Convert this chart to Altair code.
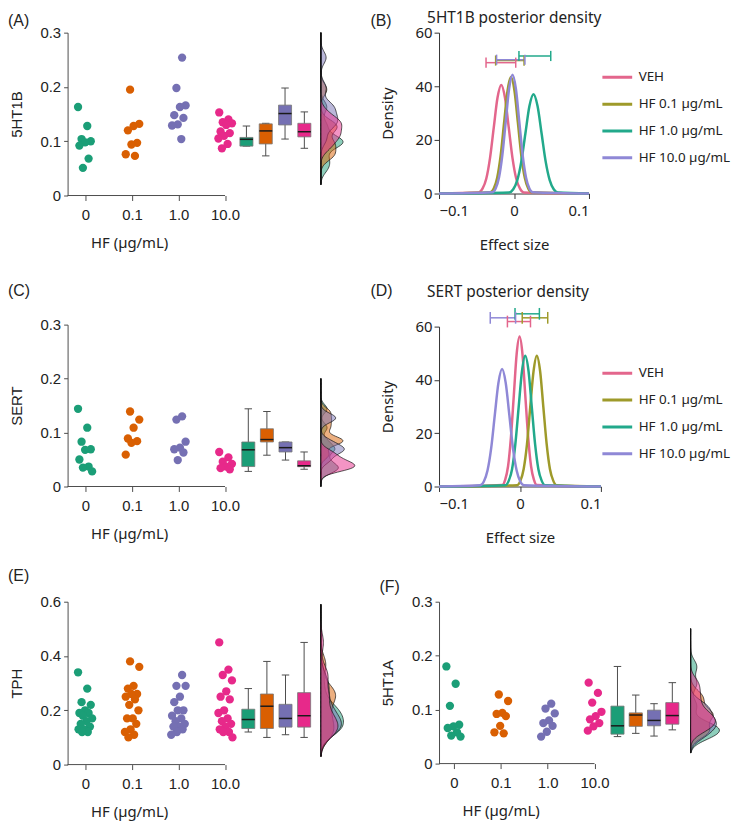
import altair as alt
import pandas as pd

GROUPS = ["0", "0.1", "1.0", "10.0"]
GROUP_COLORS = ["#1b9e77", "#d95f02", "#7570b3", "#e7298a"]
SERIES = ["VEH", "HF 0.1 µg/mL", "HF 1.0 µg/mL", "HF 10.0 µg/mL"]
SERIES_COLORS = ["#e3668c", "#9e9a2a", "#22a98b", "#8f88d6"]

# ---------------- (A) 5HT1B ----------------
A_HF0 = [0.163, 0.128, 0.104, 0.100, 0.098, 0.092, 0.068, 0.051]
A_HF01 = [0.195, 0.132, 0.128, 0.120, 0.097, 0.094, 0.076, 0.073]
A_HF1 = [0.254, 0.198, 0.166, 0.163, 0.148, 0.143, 0.131, 0.129, 0.104]
A_HF10 = [0.153, 0.140, 0.135, 0.133, 0.130, 0.118, 0.115, 0.110, 0.105, 0.095, 0.087]
A_BOX_LO = [0.091, 0.073, 0.104, 0.087]
A_BOX_Q1 = [0.091, 0.095, 0.130, 0.108]
A_BOX_MED = [0.1035, 0.119, 0.151, 0.1175]
A_BOX_Q3 = [0.107, 0.132, 0.1665, 0.133]
A_BOX_HI = [0.128, 0.133, 0.198, 0.154]

# ---------------- (C) SERT ----------------
C_HF0 = [0.144, 0.109, 0.083, 0.069, 0.068, 0.050, 0.037, 0.035, 0.028]
C_HF01 = [0.139, 0.124, 0.109, 0.089, 0.084, 0.081, 0.059]
C_HF1 = [0.130, 0.124, 0.083, 0.072, 0.069, 0.063, 0.049]
C_HF10 = [0.064, 0.054, 0.046, 0.042, 0.037, 0.034, 0.032]
C_BOX_LO = [0.028, 0.058, 0.049, 0.032]
C_BOX_Q1 = [0.037, 0.0825, 0.064, 0.0367]
C_BOX_MED = [0.068, 0.087, 0.072, 0.0385]
C_BOX_Q3 = [0.0825, 0.107, 0.0825, 0.0476]
C_BOX_HI = [0.144, 0.139, 0.0825, 0.064]

# ---------------- (E) TPH ----------------
E_HF0 = [0.34, 0.28, 0.23, 0.22, 0.20, 0.19, 0.19, 0.18, 0.17, 0.16, 0.15, 0.14, 0.13, 0.13, 0.12, 0.12]
E_HF01 = [0.38, 0.36, 0.29, 0.28, 0.26, 0.26, 0.25, 0.24, 0.22, 0.20, 0.17, 0.17, 0.15, 0.13, 0.12, 0.11, 0.10]
E_HF1 = [0.33, 0.29, 0.29, 0.25, 0.23, 0.20, 0.20, 0.18, 0.17, 0.16, 0.15, 0.14, 0.14, 0.13, 0.12, 0.11]
E_HF10 = [0.45, 0.35, 0.33, 0.31, 0.27, 0.25, 0.24, 0.20, 0.19, 0.17, 0.16, 0.15, 0.14, 0.13, 0.12, 0.12, 0.10]
E_BOX_LO = [0.12, 0.10, 0.11, 0.10]
E_BOX_Q1 = [0.133, 0.133, 0.138, 0.138]
E_BOX_MED = [0.166, 0.215, 0.17, 0.18]
E_BOX_Q3 = [0.204, 0.26, 0.222, 0.265]
E_BOX_HI = [0.28, 0.38, 0.33, 0.45]

# ---------------- (F) 5HT1A ----------------
F_HF0 = [0.18, 0.148, 0.107, 0.072, 0.069, 0.066, 0.058, 0.052, 0.05]
F_HF01 = [0.128, 0.116, 0.094, 0.092, 0.088, 0.07, 0.058, 0.056]
F_HF1 = [0.111, 0.102, 0.093, 0.08, 0.075, 0.07, 0.059, 0.05]
F_HF10 = [0.15, 0.131, 0.113, 0.096, 0.088, 0.082, 0.075, 0.069, 0.061]
F_BOX_LO = [0.05, 0.056, 0.051, 0.0625]
F_BOX_Q1 = [0.0545, 0.069, 0.07, 0.073]
F_BOX_MED = [0.07, 0.09, 0.08, 0.089]
F_BOX_Q3 = [0.1065, 0.094, 0.099, 0.113]
F_BOX_HI = [0.18, 0.127, 0.111, 0.15]

# ---------------- (B) 5HT1B posterior density ----------------
B_VEH_X = [-0.1, -0.047, -0.042, -0.037, -0.032, -0.027, -0.022, -0.017, -0.012, -0.007, -0.002, 0.003, 0.008, 0.013, 0.1]
B_VEH_Y = [0, 0.4, 1.8, 5.5, 13.2, 24.6, 35.7, 40.5, 35.7, 24.6, 13.2, 5.5, 1.8, 0.4, 0]
B_HF01_X = [-0.1, -0.0316, -0.027, -0.0224, -0.0178, -0.0132, -0.0086, -0.004, 0.0006, 0.0052, 0.0098, 0.0144, 0.019, 0.0236, 0.1]
B_HF01_Y = [0, 0.5, 1.9, 5.9, 14.1, 26.4, 38.4, 43.5, 38.4, 26.4, 14.1, 5.9, 1.9, 0.5, 0]
B_HF1_X = [-0.1, -0.0064, -0.001, 0.0044, 0.0098, 0.0152, 0.0206, 0.026, 0.0314, 0.0368, 0.0422, 0.0476, 0.053, 0.0584, 0.1]
B_HF1_Y = [0, 0.4, 1.6, 5.0, 12.0, 22.4, 32.6, 37.0, 32.6, 22.4, 12.0, 5.0, 1.6, 0.4, 0]
B_HF10_X = [-0.1, -0.029, -0.0245, -0.02, -0.0155, -0.011, -0.0065, -0.002, 0.0025, 0.007, 0.0115, 0.016, 0.0205, 0.025, 0.1]
B_HF10_Y = [0, 0.5, 1.9, 6.0, 14.4, 26.9, 39.1, 44.3, 39.1, 26.9, 14.4, 6.0, 1.9, 0.5, 0]
B_CI_LO = [-0.0373, -0.0245, 0.0066, -0.0232]
B_CI_HI = [0.0023, 0.0134, 0.049, 0.0146]
B_CI_LEVEL = [48.8, 49.6, 51.3, 49.9]

# ---------------- (D) SERT posterior density ----------------
D_VEH_X = [-0.1, -0.0218, -0.0183, -0.0147, -0.0112, -0.0076, -0.0041, -0.0005, 0.0031, 0.0066, 0.0102, 0.0137, 0.0173, 0.0208, 0.1]
D_VEH_Y = [0, 0.6, 2.5, 7.6, 18.3, 34.1, 49.7, 56.3, 49.7, 34.1, 18.3, 7.6, 2.5, 0.6, 0]
D_HF01_X = [-0.1, -0.0035, 0.0006, 0.0046, 0.0087, 0.0127, 0.0168, 0.0208, 0.0249, 0.0289, 0.033, 0.037, 0.0411, 0.0451, 0.1]
D_HF01_Y = [0, 0.5, 2.2, 6.6, 15.9, 29.8, 43.3, 49.1, 43.3, 29.8, 15.9, 6.6, 2.2, 0.5, 0]
D_HF1_X = [-0.1, -0.0178, -0.0138, -0.0097, -0.0057, -0.0016, 0.0025, 0.0065, 0.0106, 0.0146, 0.0187, 0.0227, 0.0268, 0.0308, 0.1]
D_HF1_Y = [0, 0.5, 2.2, 6.6, 15.9, 29.8, 43.3, 49.1, 43.3, 29.8, 15.9, 6.6, 2.2, 0.5, 0]
D_HF10_X = [-0.1, -0.0491, -0.0446, -0.0401, -0.0356, -0.0311, -0.0266, -0.0221, -0.0176, -0.0131, -0.0086, -0.0041, 0.0004, 0.0049, 0.1]
D_HF10_Y = [0, 0.5, 1.9, 6.0, 14.3, 26.8, 38.9, 44.1, 38.9, 26.8, 14.3, 6.0, 1.9, 0.5, 0]
D_CI_LO = [-0.0155, 0.0028, -0.0061, -0.0367]
D_CI_HI = [0.013, 0.0343, 0.024, -0.0054]
D_CI_LEVEL = [61.9, 63.3, 64.8, 63.3]

# ---------------- build tables ----------------
pt_rows, box_rows = [], []
for panel, lists, stats in [
    ("A", [A_HF0, A_HF01, A_HF1, A_HF10], [A_BOX_LO, A_BOX_Q1, A_BOX_MED, A_BOX_Q3, A_BOX_HI]),
    ("C", [C_HF0, C_HF01, C_HF1, C_HF10], [C_BOX_LO, C_BOX_Q1, C_BOX_MED, C_BOX_Q3, C_BOX_HI]),
    ("E", [E_HF0, E_HF01, E_HF1, E_HF10], [E_BOX_LO, E_BOX_Q1, E_BOX_MED, E_BOX_Q3, E_BOX_HI]),
    ("F", [F_HF0, F_HF01, F_HF1, F_HF10], [F_BOX_LO, F_BOX_Q1, F_BOX_MED, F_BOX_Q3, F_BOX_HI]),
]:
    for gi, vals in enumerate(lists):
        for i, v in enumerate(vals):
            pt_rows.append({"panel": panel, "g": GROUPS[gi], "gi": gi, "i": i, "value": v})
        lo, q1, med, q3, hi = (s[gi] for s in stats)
        box_rows.append({"panel": panel, "g": GROUPS[gi], "gi": gi,
                         "lo": lo, "q1": q1, "med": med, "q3": q3, "hi": hi})
points = pd.DataFrame(pt_rows)
boxes = pd.DataFrame(box_rows)

curve_rows, ci_rows = [], []
for panel, curves, ci in [
    ("B", [(B_VEH_X, B_VEH_Y), (B_HF01_X, B_HF01_Y), (B_HF1_X, B_HF1_Y), (B_HF10_X, B_HF10_Y)],
     (B_CI_LO, B_CI_HI, B_CI_LEVEL)),
    ("D", [(D_VEH_X, D_VEH_Y), (D_HF01_X, D_HF01_Y), (D_HF1_X, D_HF1_Y), (D_HF10_X, D_HF10_Y)],
     (D_CI_LO, D_CI_HI, D_CI_LEVEL)),
]:
    for si, (xs, ys) in enumerate(curves):
        for k, (xv, yv) in enumerate(zip(xs, ys)):
            curve_rows.append({"panel": panel, "s": SERIES[si], "k": k, "x": xv, "y": yv})
        ci_rows.append({"panel": panel, "s": SERIES[si], "lo": ci[0][si], "hi": ci[1][si], "lev": ci[2][si]})
curves_df = pd.DataFrame(curve_rows)
ci_df = pd.DataFrame(ci_rows)

AX = "#4d4d4d"
TXT = "#222222"
LFONT = "Liberation Sans"
NFONT = "Noto Sans"


def left_panel(key, ymax, yticks, ytitle, label, label_y, x0, width, height, top_off,
               box0, boxdx, dbase, bw, k, ext):
    xs = alt.Scale(domain=[x0, 5.7], nice=False, zero=False)
    ys = alt.Scale(domain=[0, ymax], nice=False, range=[height + top_off, top_off])
    cs = alt.Scale(domain=GROUPS, range=GROUP_COLORS)
    xaxis = alt.Axis(values=[0, 1, 2, 3], labelExpr="['0','0.1','1.0','10.0'][datum.value]",
                     domain=False, grid=False, tickSize=5, tickColor=AX, labelPadding=7,
                     labelFont=LFONT, labelFontSize=15, labelColor=TXT,
                     title="HF (µg/mL)", titleFont=NFONT, titleFontSize=15, titleFontWeight="normal",
                     titleColor=TXT, titleX=62, titleY=40, titleAlign="center", titleBaseline="top")
    yaxis = alt.Axis(values=yticks, labelExpr="datum.value == 0 ? '0' : format(datum.value, '.1f')",
                     grid=False, domainColor=AX, tickColor=AX, tickSize=4, labelPadding=3,
                     labelFont=LFONT, labelFontSize=15, labelColor=TXT,
                     title=ytitle, titleFont=LFONT, titleFontSize=15, titleFontWeight="normal",
                     titleColor=TXT, titlePadding=16)
    color = alt.Color("g:N", scale=cs, legend=None)
    pts = alt.Chart(points).transform_filter(alt.datum.panel == key)
    bx = alt.Chart(boxes).transform_filter(alt.datum.panel == key).transform_calculate(
        xb=f"{box0} + {boxdx} * datum.gi",
        xl=f"{box0} + {boxdx} * datum.gi - 0.14",
        xr=f"{box0} + {boxdx} * datum.gi + 0.14",
        cl=f"{box0} + {boxdx} * datum.gi - 0.08",
        cr=f"{box0} + {boxdx} * datum.gi + 0.08",
    )
    X = lambda f: alt.X(f, scale=xs, axis=xaxis)
    Y = lambda f: alt.Y(f, scale=ys, axis=yaxis)

    xline = alt.Chart(pd.DataFrame({"a": [0]})).mark_rule(color=AX, strokeWidth=1).encode(
        x=alt.X(datum=x0, type="quantitative", scale=xs, axis=xaxis),
        x2=alt.X2(datum=3.0), y=alt.Y(datum=0, type="quantitative", scale=ys, axis=yaxis))

    dens = pts.transform_density("value", groupby=["g"], as_=["value", "density"],
                                 extent=ext, bandwidth=bw, steps=120).transform_calculate(
        xd=f"{dbase} + datum.density * {k}").mark_area(
        orient="horizontal", fillOpacity=0.5, stroke="#111111", strokeWidth=0.7).encode(
        y=Y("value:Q"), x=alt.X("xd:Q", scale=xs, axis=xaxis, stack=None),
        x2=alt.X2(datum=dbase), color=color)

    whisk = bx.mark_rule(color=AX, strokeWidth=1).encode(x=X("xb:Q"), y=Y("lo:Q"), y2="hi:Q")
    cap_hi = bx.mark_rule(color=AX, strokeWidth=1).encode(x=X("cl:Q"), x2="cr:Q", y=Y("hi:Q"))
    cap_lo = bx.mark_rule(color=AX, strokeWidth=1).encode(x=X("cl:Q"), x2="cr:Q", y=Y("lo:Q"))
    box = bx.mark_bar(stroke="#777777", strokeWidth=0.8, opacity=1).encode(
        x=X("xl:Q"), x2="xr:Q", y=Y("q1:Q"), y2="q3:Q", color=color)
    med = bx.mark_rule(color="#1a1a1a", strokeWidth=1.5).encode(x=X("xl:Q"), x2="xr:Q", y=Y("med:Q"))

    dots = pts.transform_calculate(
        xj="datum.gi + ((datum.i * 0.618034 + datum.gi * 0.37) % 1 - 0.5) * 0.32"
    ).mark_circle(size=70, opacity=1).encode(x=X("xj:Q"), y=Y("value:Q"), color=color)

    lab = alt.Chart(pd.DataFrame({"t": [label]})).mark_text(
        align="left", baseline="top", font=LFONT, fontSize=16, color=TXT).encode(
        text="t:N", x=alt.value(-60), y=alt.value(label_y + top_off))

    return alt.layer(xline, dens, whisk, cap_hi, cap_lo, box, med, dots, lab).properties(
        width=width, height=height + top_off)


def right_panel(key, width, height, top_off, title, label, title_y, label_y, legend_y, cap):
    xs = alt.Scale(domain=[-0.1, 0.1], nice=False, zero=False)
    ys = alt.Scale(domain=[0, 60], nice=False, range=[height + top_off, top_off])
    cs = alt.Scale(domain=SERIES, range=SERIES_COLORS)
    xaxis = alt.Axis(values=[-0.1, 0, 0.1], labelExpr="datum.value == 0 ? '0' : format(datum.value, '.1f')",
                     grid=False, domainColor="#333333", tickColor="#333333", tickSize=5, labelPadding=5,
                     labelFont=NFONT, labelFontSize=15, labelColor=TXT,
                     title="Effect size", titleFont=NFONT, titleFontSize=15, titleFontWeight="normal",
                     titleColor=TXT, titlePadding=19)
    yaxis = alt.Axis(values=[0, 20, 40, 60], grid=False, domainColor="#333333", tickColor="#333333",
                     tickSize=5, labelPadding=2, labelFont=NFONT, labelFontSize=15, labelColor=TXT,
                     title="Density", titleFont=NFONT, titleFontSize=15, titleFontWeight="normal",
                     titleColor=TXT, titlePadding=20)
    legend = alt.Legend(title=None, orient="none", legendX=163, legendY=legend_y + top_off,
                        symbolType="stroke", symbolSize=900, symbolStrokeWidth=3,
                        labelFont=NFONT, labelFontSize=13.5, labelColor=TXT, labelOffset=5,
                        clipHeight=16, rowPadding=11, padding=0)
    color = alt.Color("s:N", scale=cs, legend=legend, sort=SERIES)
    X = lambda f: alt.X(f, scale=xs, axis=xaxis)
    Y = lambda f: alt.Y(f, scale=ys, axis=yaxis)

    lines = alt.Chart(curves_df).transform_filter(alt.datum.panel == key).mark_line(
        interpolate="monotone", strokeWidth=2.5).encode(
        x=X("x:Q"), y=Y("y:Q"), color=color, order="k:Q")
    ci = alt.Chart(ci_df).transform_filter(alt.datum.panel == key).transform_calculate(
        ya=f"datum.lev - {cap}", yb=f"datum.lev + {cap}")
    ci_line = ci.mark_rule(strokeWidth=1.5).encode(x=X("lo:Q"), x2="hi:Q", y=Y("lev:Q"), color=color)
    ci_lo = ci.mark_rule(strokeWidth=1.5).encode(x=X("lo:Q"), y=Y("ya:Q"), y2="yb:Q", color=color)
    ci_hi = ci.mark_rule(strokeWidth=1.5).encode(x=X("hi:Q"), y=Y("ya:Q"), y2="yb:Q", color=color)

    ttl = alt.Chart(pd.DataFrame({"t": [title]})).mark_text(
        align="left", baseline="top", font=NFONT, fontSize=15.5, color=TXT).encode(
        text="t:N", x=alt.value(-12), y=alt.value(title_y + top_off))
    lab = alt.Chart(pd.DataFrame({"t": [label]})).mark_text(
        align="left", baseline="top", font=LFONT, fontSize=16, color=TXT).encode(
        text="t:N", x=alt.value(-69), y=alt.value(label_y + top_off))

    return alt.layer(lines, ci_line, ci_lo, ci_hi, ttl, lab).properties(
        width=width, height=height + top_off)


pA = left_panel("A", 0.3, [0, 0.1, 0.2, 0.3], "5HT1B", "(A)", -20, -0.385, 285, 164, 0,
                3.46, 0.415, 5.06, 0.011, 0.028, [0.02, 0.3])
pB = right_panel("B", 151, 162, 0, "5HT1B posterior density", "(B)", -22, -20, 37, 1.9)
pC = left_panel("C", 0.3, [0, 0.1, 0.2, 0.3], "SERT", "(C)", -42, -0.385, 285, 163, 14,
                3.5, 0.4, 5.06, 0.008, 0.024, [0.0, 0.2])
pD = right_panel("D", 163, 161, 16, "SERT posterior density", "(D)", -42, -44, 39, 2.2)
pE = left_panel("E", 0.6, [0, 0.2, 0.4, 0.6], "TPH", "(E)", -34, -0.385, 285, 164, 0,
                3.5, 0.4, 5.06, 0.03, 0.07, [0.03, 0.59])
pF = left_panel("F", 0.3, [0, 0.1, 0.2, 0.3], "5HT1A", "(F)", -23, -0.317, 284, 163, 0,
                3.49, 0.39, 5.05, 0.012, 0.035, [0.02, 0.25])

chart = alt.concat(pA, pB, pC, pD, pE, pF, columns=2, bounds="flush",
                   spacing={"row": 116, "column": 89}).resolve_scale(
    color="independent").properties(padding=0, background="white").configure_view(stroke=None)

chart.save("out.html", embed_options={"renderer": "svg", "actions": False})
